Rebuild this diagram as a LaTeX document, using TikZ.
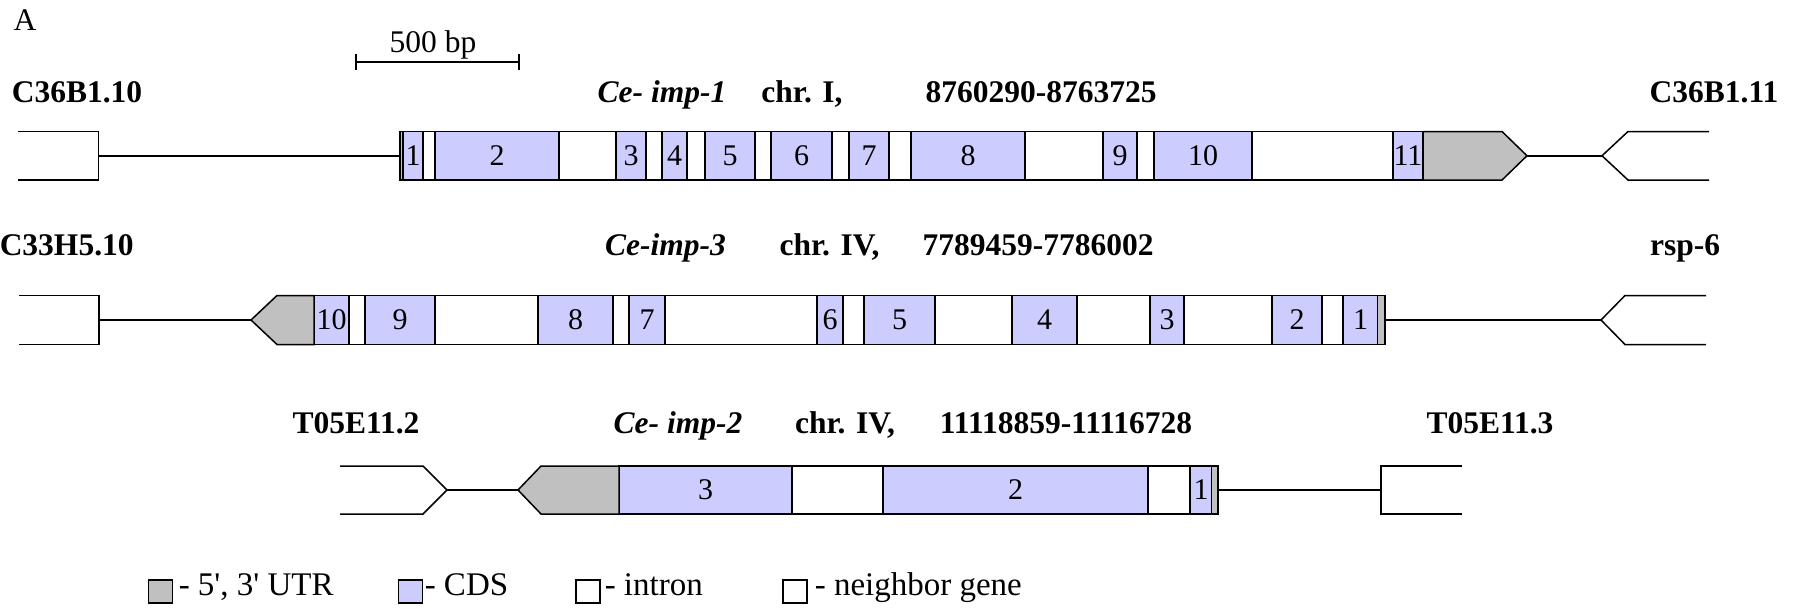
\documentclass[tikz,border=0pt]{standalone}
\usepackage{fontspec}
\setmainfont{Liberation Serif}
\definecolor{cds}{RGB}{204,204,255}
\definecolor{utr}{RGB}{192,192,192}
\newcommand\exn[5]{\node[exon, minimum width={(#3-#2)*1pt}] (#1) at ({(#2+#3)/2},#5) {#4};}
\begin{document}
\begin{tikzpicture}[x=1pt,y=-1pt,line width=1.5pt,
  exon/.style={draw, fill=cds, inner sep=0pt, outer sep=0pt, minimum height=49pt, font=\fontsize{30}{35}\selectfont},
  genebox/.style={draw, fill=white, inner sep=0pt, outer sep=0pt, minimum height=49pt},
  utrshape/.style={draw, fill=utr},
  lab/.style={font=\fontsize{31.5}{36}\selectfont\bfseries, inner sep=0pt, anchor=base},
  ilab/.style={font=\fontsize{31.5}{36}\selectfont\bfseries\itshape, inner sep=0pt, anchor=base},
  txt/.style={font=\fontsize{31.5}{36}\selectfont, inner sep=0pt, anchor=base},
  legtxt/.style={font=\fontsize{33}{38}\selectfont, inner sep=0pt, anchor=base west},
  legbox/.style={draw, minimum width=24pt, minimum height=23pt, inner sep=0pt}]
\useasboundingbox (0,0) rectangle (1796,608);

% header
\node[txt] (A) at (25,30) {A};
\node[txt] (sb) at (433,52) {500 bp};
\coordinate (sbl) at (356,62);
\coordinate (sbr) at (519,62);
\draw (sbl) -- (sbr);
\draw (356,54) -- (356,70);
\draw (519,54) -- (519,70);

% ---------- Row 1 ----------
\node[lab] (l1a) at (77,102) {C36B1.10};
\node[ilab] (l1b) at (662,102) {Ce- imp-1};
\node[lab] (l1c) at (802,102) {chr. I,};
\node[lab] (l1d) at (1041,102) {8760290-8763725};
\node[lab] (l1e) at (1714,102) {C36B1.11};

\draw (18,131.5) -- (98.5,131.5) -- (98.5,180) -- (18,180);
\coordinate (n1r) at (98.5,155.75);
\node[genebox, minimum height=48.5pt, minimum width=1023pt] (g1) at (911.5,155.75) {};
\fill[utr] (400,131.5) rectangle (403,180);
\begin{scope}[exon/.append style={minimum height=48.5pt}]
\exn{a1}{403}{423}{1}{155.75}
\exn{a2}{435}{559}{2}{155.75}
\exn{a3}{616}{646}{3}{155.75}
\exn{a4}{662}{687}{4}{155.75}
\exn{a5}{705}{755}{5}{155.75}
\exn{a6}{771}{832}{6}{155.75}
\exn{a7}{849}{889}{7}{155.75}
\exn{a8}{911}{1025}{8}{155.75}
\exn{a9}{1103}{1137}{9}{155.75}
\exn{a10}{1154}{1252}{10}{155.75}
\exn{a11}{1393}{1423}{11}{155.75}
\end{scope}
\draw (400,131.5) rectangle (1423,180);
\draw[utrshape] (1423,131.5) -- (1502,131.5) -- (1527,155.75) -- (1502,180) -- (1423,180) -- cycle;
\coordinate (u1) at (1527,155.75);
\coordinate (f1) at (1602,155.75);
\draw (n1r) -- (g1.west);
\draw (u1) -- (f1);
\draw (1709,131.5) -- (1628,131.5) -- (f1) -- (1628,180) -- (1709,180);

% ---------- Row 2 ----------
\node[lab, anchor=base west] (l2a) at (-1,255) {C33H5.10};
\node[ilab] (l2b) at (665.5,255) {Ce-imp-3};
\node[lab] (l2c) at (829.5,255) {chr. IV,};
\node[lab] (l2d) at (1038,255) {7789459-7786002};
\node[lab] (l2e) at (1685,255) {rsp-6};

\draw (19,295.5) -- (99,295.5) -- (99,344.5) -- (19,344.5);
\coordinate (n2r) at (99,320);
\node[genebox, minimum width=1071pt] (g2) at (849.5,320) {};
\exn{b10}{314}{349}{10}{320}
\exn{b9}{365}{435}{9}{320}
\exn{b8}{538}{613}{8}{320}
\exn{b7}{629}{665}{7}{320}
\exn{b6}{817}{843}{6}{320}
\exn{b5}{864}{935}{5}{320}
\exn{b4}{1012}{1077}{4}{320}
\exn{b3}{1150}{1184}{3}{320}
\exn{b2}{1272}{1322}{2}{320}
\exn{b1}{1343}{1378}{1}{320}
\fill[utr] (1378,295.5) rectangle (1385,344.5);
\draw (314,295.5) rectangle (1385,344.5);
\draw[utrshape] (314,295.5) -- (277,295.5) -- (251,320) -- (277,344.5) -- (314,344.5) -- cycle;
\coordinate (u2) at (251,320);
\coordinate (f2) at (1601,320);
\draw (n2r) -- (u2);
\draw (g2.east) -- (f2);
\draw (1706,295.5) -- (1625,295.5) -- (f2) -- (1625,344.5) -- (1706,344.5);

% ---------- Row 3 ----------
\node[lab] (l3a) at (356,433) {T05E11.2};
\node[ilab] (l3b) at (678,433) {Ce- imp-2};
\node[lab] (l3c) at (845,433) {chr. IV,};
\node[lab] (l3d) at (1066,433) {11118859-11116728};
\node[lab] (l3e) at (1490,433) {T05E11.3};

\coordinate (f3) at (447,490);
\draw (340,466) -- (423,466) -- (f3) -- (423,514) -- (340,514);
\node[genebox, minimum width=599pt, minimum height=48pt] (g3) at (918.5,490) {};
\begin{scope}[exon/.append style={minimum height=48pt}]
\exn{c3}{619}{792}{3}{490}
\exn{c2}{883}{1148}{2}{490}
\exn{c1}{1190}{1212}{1}{490}
\end{scope}
\fill[utr] (1212,466) rectangle (1218,514);
\draw (619,466) rectangle (1218,514);
\draw[utrshape] (619,466) -- (541,466) -- (518,490) -- (541,514) -- (619,514) -- cycle;
\coordinate (u3) at (518,490);
\coordinate (n3l) at (1381,490);
\draw (f3) -- (u3);
\draw (g3.east) -- (n3l);
\draw (1462,466) -- (1381,466) -- (1381,514) -- (1462,514);

% ---------- Legend ----------
\node[legbox, fill=utr] (k1) at (160.5,591.5) {};
\node[legtxt] (k1t) at (178,595) {- 5\textquotesingle, 3\textquotesingle\ UTR};
\node[legbox, fill=cds] (k2) at (410.5,591.5) {};
\node[legtxt] (k2t) at (424,595) {- CDS};
\node[legbox, fill=white] (k3) at (588,591.5) {};
\node[legtxt] (k3t) at (604,595) {- intron};
\node[legbox, fill=white] (k4) at (795,591.5) {};
\node[legtxt] (k4t) at (814,595) {- neighbor gene};
\end{tikzpicture}
\end{document}
